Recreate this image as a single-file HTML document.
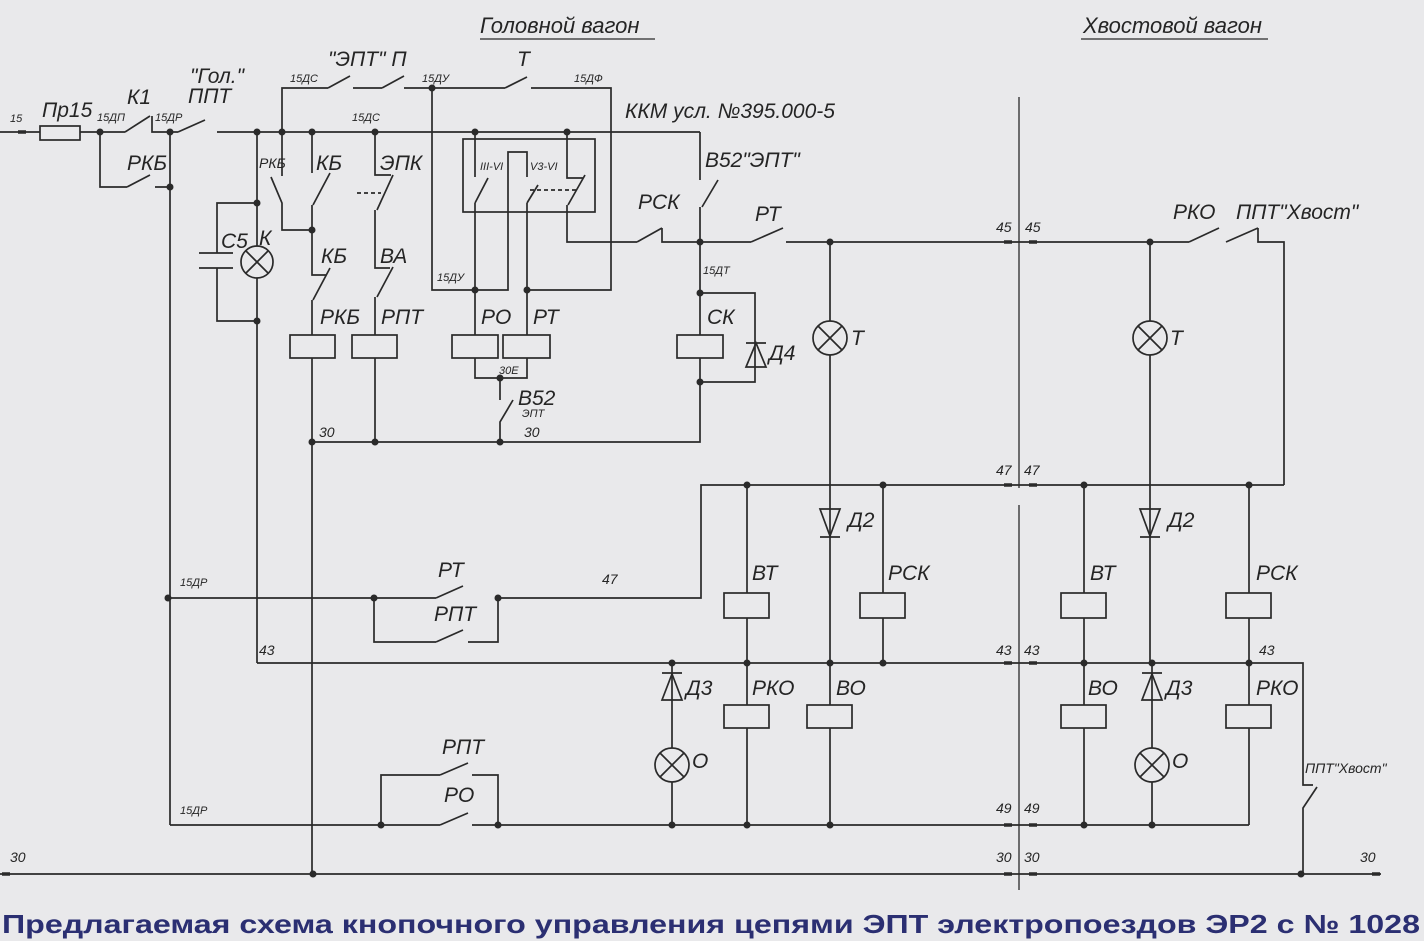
<!DOCTYPE html>
<html><head><meta charset="utf-8"><style>
html,body{margin:0;padding:0;background:#e9e9eb;}
svg{display:block}
text{font-family:"Liberation Sans","DejaVu Sans",sans-serif;font-style:italic;fill:#252525}
.b{font-size:21px}
.s{font-size:11px}
.m{font-size:14px}
</style></head><body>
<svg width="1424" height="941" viewBox="0 0 1424 941" xmlns="http://www.w3.org/2000/svg">
<rect width="1424" height="941" fill="#e9e9eb"/>
<g stroke="#2a2a2a" stroke-width="1.7" fill="none">
<!-- main bus -->
<path d="M0 132H40M80 132H125M125 132L150 116M152 116V132H178M178 132L205 120M217 132H700"/>
<rect x="40" y="126" width="40" height="14"/>
<path d="M100 132V187H127M127 187L150 175M155 187H170"/>
<path d="M170 132V825"/>
<path d="M257 132V246M257 278V663"/>
<path d="M257 203H217V253M199 253H233M199 268H233M217 268V321H257"/>
<circle cx="257" cy="262" r="16"/><path d="M246 251L268 273M268 251L246 273"/>
<!-- top loop -->
<path d="M282 132V88H328M328 88L350 76M353 88H382M382 88L404 76M404 88H505M505 88L527 77M531 88H611V290H527"/>
<path d="M282 132V176M271 177L282 203V230H312"/>
<path d="M312 132V173M313 205L330 173M312 205V275H326M313 300L330 268M312 300V335M312 358V874"/>
<rect x="290" y="335" width="45" height="23"/>
<path d="M375 132V175H391M377 210L393 175M375 210V268H390M377 297L393 267M375 297V335M375 358V442"/>
<path d="M357 193H381" stroke-dasharray="4 3"/>
<rect x="352" y="335" width="45" height="23"/>
<!-- KKM -->
<path d="M432 88V290H508V152H527V177"/>
<rect x="463" y="139" width="132" height="73"/>
<path d="M475 132V177M475 203L488 178M475 203V335"/>
<path d="M527 203L538 185M527 203V335"/>
<path d="M567 132V178H583M568 205L585 175M567 205V242H637M637 242L662 228M662 228V242H700"/>
<path d="M530 190H577" stroke-dasharray="4 3"/>
<rect x="452" y="335" width="46" height="23"/>
<rect x="503" y="335" width="47" height="23"/>
<path d="M475 358V378H527V358M500 378V400M513 400L500 422V442"/>
<path d="M700 132V180M702 207L718 180M700 207V335M700 358V442H312"/>
<rect x="677" y="335" width="46" height="23"/>
<path d="M700 293H755V382H700"/>
<path d="M746 343H766M746 367H766L756 343Z"/>
<!-- 45 bus -->
<path d="M700 242H751M751 242L783 228M786 242H1189M1189 242L1219 228M1226 242L1258 228M1258 228V242H1284V485"/>
<path d="M830 242V321M830 355V663"/>
<circle cx="830" cy="338" r="17"/><path d="M818 326L842 350M842 326L818 350"/>
<path d="M1150 242V321M1150 355V663"/>
<circle cx="1150" cy="338" r="17"/><path d="M1138 326L1162 350M1162 326L1138 350"/>
<path d="M820 509H840L830 536ZM820 537H840"/>
<path d="M1140 509H1160L1150 536ZM1140 537H1160"/>
<!-- separator -->
<path d="M1019 97V488M1019 505V890" stroke-width="1.3"/>
<!-- 47 row -->
<path d="M168 598H436M436 598L463 586M498 598H701V485H1284"/>
<path d="M374 598V642H436M436 642L463 630M468 642H498V598"/>
<path d="M747 485V593M747 618V705M747 728V825"/>
<path d="M883 485V593M883 618V663"/>
<path d="M1084 485V593M1084 618V705M1084 728V825"/>
<path d="M1249 485V593M1249 618V705M1249 728V825"/>
<rect x="724" y="593" width="45" height="25"/>
<rect x="860" y="593" width="45" height="25"/>
<rect x="1061" y="593" width="45" height="25"/>
<rect x="1226" y="593" width="45" height="25"/>
<!-- 43 row -->
<path d="M257 663H1303V785H1313M1317 787L1303 808V874"/>
<path d="M672 663V748M672 782V825"/>
<circle cx="672" cy="765" r="17"/><path d="M660 753L684 777M684 753L660 777"/>
<path d="M1152 663V748M1152 782V825"/>
<circle cx="1152" cy="765" r="17"/><path d="M1140 753L1164 777M1164 753L1140 777"/>
<path d="M662 673H682M662 700H682L672 674Z"/>
<path d="M1142 673H1162M1142 700H1162L1152 674Z"/>
<path d="M830 663V705M830 728V825"/>
<rect x="724" y="705" width="45" height="23"/>
<rect x="807" y="705" width="45" height="23"/>
<rect x="1061" y="705" width="45" height="23"/>
<rect x="1226" y="705" width="45" height="23"/>
<!-- 49 row -->
<path d="M170 825H440M440 825L468 813M472 825H1249"/>
<path d="M381 825V775H440M440 775L468 763M472 775H498V825"/>
<!-- 30 bus -->
<path d="M0 874H1381"/>
</g>
<g stroke="#2a2a2a" stroke-width="3.5">
<path d="M1004 485H1012M1029 485H1037M1004 663H1012M1029 663H1037M1004 825H1012M1029 825H1037M1004 874H1012M1029 874H1037M1004 242H1012M1029 242H1037M18 132H26M2 874H10M1372 874H1380"/>
</g>
<g fill="#2a2a2a">
<circle cx="100" cy="132" r="3.5"/><circle cx="170" cy="132" r="3.5"/><circle cx="170" cy="187" r="3.5"/>
<circle cx="257" cy="132" r="3.5"/><circle cx="282" cy="132" r="3.5"/><circle cx="312" cy="132" r="3.5"/><circle cx="375" cy="132" r="3.5"/>
<circle cx="475" cy="132" r="3.5"/><circle cx="567" cy="132" r="3.5"/><circle cx="432" cy="88" r="3.5"/>
<circle cx="257" cy="203" r="3.5"/><circle cx="257" cy="321" r="3.5"/><circle cx="312" cy="230" r="3.5"/>
<circle cx="475" cy="290" r="3.5"/><circle cx="527" cy="290" r="3.5"/><circle cx="500" cy="378" r="3.5"/>
<circle cx="312" cy="442" r="3.5"/><circle cx="375" cy="442" r="3.5"/><circle cx="500" cy="442" r="3.5"/>
<circle cx="700" cy="242" r="3.5"/><circle cx="700" cy="293" r="3.5"/><circle cx="700" cy="382" r="3.5"/>
<circle cx="830" cy="242" r="3.5"/><circle cx="1150" cy="242" r="3.5"/>
<circle cx="747" cy="485" r="3.5"/><circle cx="883" cy="485" r="3.5"/><circle cx="1084" cy="485" r="3.5"/><circle cx="1249" cy="485" r="3.5"/>
<circle cx="168" cy="598" r="3.5"/><circle cx="374" cy="598" r="3.5"/><circle cx="498" cy="598" r="3.5"/>
<circle cx="672" cy="663" r="3.5"/><circle cx="747" cy="663" r="3.5"/><circle cx="830" cy="663" r="3.5"/><circle cx="883" cy="663" r="3.5"/>
<circle cx="1084" cy="663" r="3.5"/><circle cx="1152" cy="663" r="3.5"/><circle cx="1249" cy="663" r="3.5"/>
<circle cx="381" cy="825" r="3.5"/><circle cx="498" cy="825" r="3.5"/><circle cx="672" cy="825" r="3.5"/><circle cx="747" cy="825" r="3.5"/>
<circle cx="830" cy="825" r="3.5"/><circle cx="1084" cy="825" r="3.5"/><circle cx="1152" cy="825" r="3.5"/>
<circle cx="313" cy="874" r="3.5"/><circle cx="1301" cy="874" r="3.5"/>
</g>
<!-- titles -->
<text x="480" y="33" font-size="22">Головной вагон</text>
<path d="M480 39H655" stroke="#2a2a2a" stroke-width="1.3"/>
<text x="1083" y="33" font-size="22">Хвостовой вагон</text>
<path d="M1081 39H1268" stroke="#2a2a2a" stroke-width="1.3"/>
<!-- labels -->
<text class="s" x="10" y="122">15</text>
<text class="b" x="42" y="117">Пр15</text>
<text class="s" x="97" y="121">15ДП</text>
<text class="b" x="127" y="104">К1</text>
<text class="s" x="155" y="121">15ДР</text>
<text class="b" x="190" y="83">"Гол."</text>
<text class="b" x="188" y="103">ППТ</text>
<text class="b" x="127" y="170">РКБ</text>
<text class="s" x="290" y="82">15ДС</text>
<text class="b" x="328" y="66">"ЭПТ" П</text>
<text class="s" x="422" y="82">15ДУ</text>
<text class="b" x="517" y="66">Т</text>
<text class="s" x="574" y="82">15ДФ</text>
<text class="s" x="352" y="121">15ДС</text>
<text class="b" x="625" y="118">ККМ усл. №395.000-5</text>
<text class="m" x="259" y="168">РКБ</text>
<text class="b" x="316" y="170">КБ</text>
<text class="b" x="380" y="170">ЭПК</text>
<text class="s" x="480" y="170">III-VI</text>
<text class="s" x="530" y="170">V3-VI</text>
<text class="b" x="221" y="248">С5</text>
<text class="b" x="259" y="245">К</text>
<text class="b" x="321" y="263">КБ</text>
<text class="b" x="380" y="263">ВА</text>
<text class="b" x="320" y="324">РКБ</text>
<text class="b" x="381" y="324">РПТ</text>
<text class="s" x="437" y="281">15ДУ</text>
<text class="b" x="481" y="324">РО</text>
<text class="b" x="533" y="324">РТ</text>
<text class="s" x="499" y="374">30Е</text>
<text class="b" x="518" y="405">В52</text>
<text class="s" x="522" y="417">ЭПТ</text>
<text class="m" x="524" y="437">30</text>
<text class="m" x="319" y="437">30</text>
<text class="b" x="638" y="209">РСК</text>
<text class="b" x="705" y="167">В52"ЭПТ"</text>
<text class="b" x="755" y="221">РТ</text>
<text class="s" x="703" y="274">15ДТ</text>
<text class="b" x="707" y="324">СК</text>
<text class="b" x="769" y="360">Д4</text>
<text class="b" x="851" y="345">Т</text>
<text class="b" x="1170" y="345">Т</text>
<text class="m" x="996" y="232">45</text><text class="m" x="1025" y="232">45</text>
<text class="b" x="1173" y="219">РКО</text>
<text class="b" x="1236" y="219">ППТ"Хвост"</text>
<text class="m" x="996" y="475">47</text><text class="m" x="1024" y="475">47</text>
<text class="b" x="848" y="527">Д2</text>
<text class="b" x="1168" y="527">Д2</text>
<text class="s" x="180" y="586">15ДР</text>
<text class="b" x="438" y="577">РТ</text>
<text class="m" x="602" y="584">47</text>
<text class="b" x="434" y="621">РПТ</text>
<text class="b" x="752" y="580">ВТ</text>
<text class="b" x="888" y="580">РСК</text>
<text class="b" x="1090" y="580">ВТ</text>
<text class="b" x="1256" y="580">РСК</text>
<text class="m" x="259" y="655">43</text>
<text class="m" x="996" y="655">43</text><text class="m" x="1024" y="655">43</text>
<text class="m" x="1259" y="655">43</text>
<text class="b" x="686" y="695">Д3</text>
<text class="b" x="752" y="695">РКО</text>
<text class="b" x="836" y="695">ВО</text>
<text class="b" x="1088" y="695">ВО</text>
<text class="b" x="1166" y="695">Д3</text>
<text class="b" x="1256" y="695">РКО</text>
<text class="b" x="692" y="768">О</text>
<text class="b" x="1172" y="768">О</text>
<text class="b" x="442" y="754">РПТ</text>
<text class="b" x="444" y="802">РО</text>
<text class="m" x="1305" y="773">ППТ"Хвост"</text>
<text class="s" x="180" y="814">15ДР</text>
<text class="m" x="996" y="813">49</text><text class="m" x="1024" y="813">49</text>
<text class="m" x="10" y="862">30</text>
<text class="m" x="996" y="862">30</text><text class="m" x="1024" y="862">30</text>
<text class="m" x="1360" y="862">30</text>
<text x="2" y="933" textLength="1418" lengthAdjust="spacingAndGlyphs" style="font-style:normal;font-weight:bold;font-size:26px;fill:#2b2f72">Предлагаемая схема кнопочного управления цепями ЭПТ электропоездов ЭР2 с № 1028</text>
</svg>
</body></html>
